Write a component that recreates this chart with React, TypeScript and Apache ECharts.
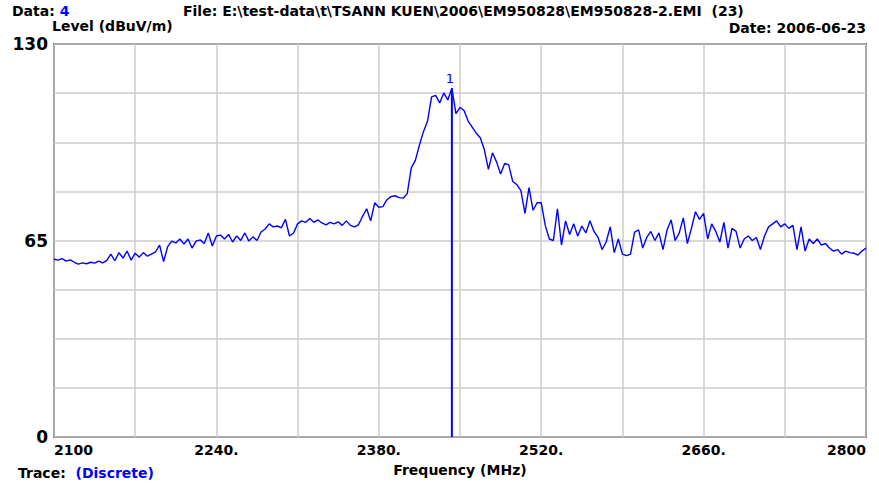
import React, { useEffect, useRef } from "react";
import * as echarts from "echarts";

// Sweep definition (MHz)
const freqStart = 2100;
const freqStep = 3.5;

// Trace levels (dBuV/m), one per sweep step
const levels: number[] = [
  58.8, 58.5, 59.0, 58.2, 58.6, 57.8, 57.2, 57.6, 57.3, 57.8,
  57.5, 58.2, 57.6, 58.4, 60.5, 58.3, 61.0, 59.2, 61.5, 58.5,
  60.8, 59.5, 61.0, 59.8, 60.5, 61.2, 63.5, 58.0, 63.0, 64.8,
  64.2, 65.5, 63.8, 65.5, 62.5, 64.8, 65.2, 64.0, 67.5, 63.2,
  66.5, 66.8, 65.5, 67.0, 64.5, 66.5, 65.0, 67.5, 64.8, 66.2,
  65.0, 67.8, 68.8, 70.5, 69.5, 69.8, 69.2, 72.0, 66.5, 67.5,
  70.5, 71.5, 71.0, 72.3, 71.0, 71.8, 70.8, 70.2, 71.0, 70.5,
  71.2, 70.0, 71.5, 70.0, 69.5, 70.2, 73.0, 75.5, 71.5, 77.5,
  76.0, 76.2, 78.5, 79.5, 79.8, 79.2, 79.0, 80.5, 89.0, 91.5,
  96.5, 101.0, 104.5, 112.5, 113.0, 110.5, 113.8, 111.5, 115.4, 107.0,
  109.0, 108.0, 104.5, 102.5, 100.5, 99.0, 95.0, 88.5, 94.0, 91.0,
  87.0, 90.5, 90.0, 84.5, 83.5, 81.5, 74.0, 82.5, 75.0, 77.5,
  77.5, 70.0, 65.5, 65.0, 75.5, 63.5, 71.5, 67.0, 70.5, 66.5,
  69.8, 67.5, 71.5, 68.0, 66.0, 62.0, 64.5, 69.5, 61.0, 65.5,
  60.5, 60.0, 60.5, 67.8, 68.5, 62.5, 66.0, 68.0, 65.0, 67.5,
  62.0, 68.5, 71.8, 65.0, 67.5, 72.5, 64.0, 69.0, 74.5, 72.0,
  74.0, 65.5, 70.5, 68.0, 64.5, 71.0, 62.5, 69.0, 68.0, 62.5,
  65.5, 66.5, 65.0, 66.0, 62.0, 66.5, 69.5, 70.5, 71.5, 69.5,
  70.5, 69.0, 70.0, 62.0, 69.5, 61.5, 65.5, 64.0, 65.5, 63.5,
  64.0, 62.5, 61.5, 62.0, 60.5, 61.5, 61.0, 60.8, 60.2, 61.5,
  62.5,
];

// Marker 1
const markerFreq = 2443;
const markerLevel = 115.4;
const markerLabel = "1";

// Axes
const xMin = 2100;
const xMax = 2800;
const xInterval = 70;
const xLabelled = [2100, 2240, 2380, 2520, 2660, 2800];
const yMin = 0;
const yMax = 130;
const yInterval = 16.25;
const yLabelled = [0, 65, 130];

// Header texts
const dataNo = "4";
const filePath = "File: E:\\test-data\\t\\TSANN KUEN\\2006\\EM950828\\EM950828-2.EMI  (23)";
const dateText = "Date: 2006-06-23";
const traceMode = "(Discrete)";

const FONT = "DejaVu Sans";
const BLUE = "#0000ff";

export default function App() {
  const ref = useRef<HTMLDivElement>(null);
  useEffect(() => {
    if (!ref.current) return;
    const chart = echarts.init(ref.current, null, { renderer: "svg" });
    const trace = levels.map((v, i) => [freqStart + i * freqStep, v]);
    chart.setOption({
      animation: false,
      backgroundColor: "#ffffff",
      grid: {
        left: 54,
        right: 13,
        top: 44,
        bottom: 46,
        show: true,
        borderColor: "#000000",
        borderWidth: 1.5,
      },
      xAxis: {
        type: "value",
        min: xMin,
        max: xMax,
        interval: xInterval,
        name: "Frequency (MHz)",
        nameLocation: "middle",
        nameGap: 26,
        nameTextStyle: { fontFamily: FONT, fontWeight: "bold", fontSize: 14, color: "#000" },
        axisLine: { show: false },
        axisTick: { show: false },
        splitLine: { show: true, lineStyle: { color: "#cccccc", width: 1.5 } },
        axisLabel: {
          margin: 6,
          fontFamily: FONT,
          fontWeight: "bold",
          fontSize: 14,
          color: "#000",
          showMinLabel: true,
          showMaxLabel: true,
          alignMinLabel: "left",
          alignMaxLabel: "right",
          formatter: (v: number) => {
            if (!xLabelled.includes(v)) return "";
            if (v === xMin || v === xMax) return String(v);
            return v + ".";
          },
        },
      },
      yAxis: {
        type: "value",
        min: yMin,
        max: yMax,
        interval: yInterval,
        name: "Level (dBuV/m)",
        nameLocation: "end",
        nameGap: 11,
        nameTextStyle: {
          fontFamily: FONT,
          fontWeight: "bold",
          fontSize: 14,
          color: "#000",
          align: "left",
          verticalAlign: "bottom",
          padding: [0, 0, 0, -2],
        },
        axisLine: { show: false },
        axisTick: { show: false },
        splitLine: { show: true, lineStyle: { color: "#cccccc", width: 1.5 } },
        axisLabel: {
          margin: 6,
          fontFamily: FONT,
          fontWeight: "bold",
          fontSize: 17,
          color: "#000",
          showMinLabel: true,
          showMaxLabel: true,
          formatter: (v: number) => (yLabelled.includes(v) ? String(v) : ""),
        },
      },
      series: [
        {
          type: "line",
          data: trace,
          showSymbol: false,
          symbol: "none",
          lineStyle: { color: BLUE, width: 1.4 },
          z: 3,
        },
        {
          type: "line",
          data: [
            [markerFreq, 0],
            {
              value: [markerFreq, markerLevel],
              label: {
                show: true,
                formatter: markerLabel,
                position: "top",
                distance: 3,
                offset: [-2, 0],
                color: BLUE,
                fontFamily: FONT,
                fontSize: 13,
              },
            },
          ],
          showSymbol: true,
          symbol: "circle",
          symbolSize: 0,
          itemStyle: { color: BLUE },
          lineStyle: { color: BLUE, width: 2 },
          z: 4,
        },
      ],
      graphic: [
        {
          type: "text",
          left: 12,
          top: 4,
          style: {
            text: "{b|Data: }{v|" + dataNo + "}",
            rich: {
              b: { fontFamily: FONT, fontWeight: "bold", fontSize: 14, fill: "#000" },
              v: { fontFamily: FONT, fontWeight: "bold", fontSize: 14, fill: BLUE },
            },
          },
        },
        {
          type: "text",
          left: 183,
          top: 4,
          style: { text: filePath, fontFamily: FONT, fontWeight: "bold", fontSize: 14, fill: "#000" },
        },
        {
          type: "text",
          right: 13,
          top: 21,
          style: { text: dateText, fontFamily: FONT, fontWeight: "bold", fontSize: 14, fill: "#000" },
        },
        {
          type: "text",
          left: 18,
          top: 466,
          style: {
            text: "{b|Trace:  }{v|" + traceMode + "}",
            rich: {
              b: { fontFamily: FONT, fontWeight: "bold", fontSize: 14, fill: "#000" },
              v: { fontFamily: FONT, fontWeight: "bold", fontSize: 14, fill: BLUE },
            },
          },
        },
      ],
    });
    return () => chart.dispose();
  }, []);
  return (
    <div
      ref={ref}
      style={{ position: "fixed", left: 0, top: 0, width: 879, height: 483, background: "#fff" }}
    />
  );
}
